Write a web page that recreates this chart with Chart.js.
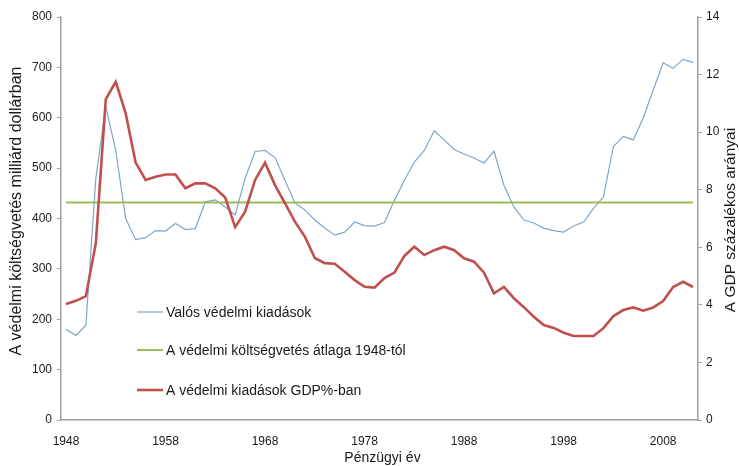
<!DOCTYPE html>
<html>
<head>
<meta charset="utf-8">
<script src="https://cdn.jsdelivr.net/npm/chart.js@4"></script>
<style>
  html, body { margin: 0; padding: 0; background: #fff; }
  #wrap { position: relative; width: 739px; height: 466px; }
</style>
</head>
<body>
<div id="wrap"><canvas id="defenseChart" width="739" height="466"></canvas></div>
<script>
// ── data ──
const years = [
  1948, 1949, 1950, 1951, 1952, 1953, 1954, 1955, 1956, 1957,
  1958, 1959, 1960, 1961, 1962, 1963, 1964, 1965, 1966, 1967,
  1968, 1969, 1970, 1971, 1972, 1973, 1974, 1975, 1976, 1977,
  1978, 1979, 1980, 1981, 1982, 1983, 1984, 1985, 1986, 1987,
  1988, 1989, 1990, 1991, 1992, 1993, 1994, 1995, 1996, 1997,
  1998, 1999, 2000, 2001, 2002, 2003, 2004, 2005, 2006, 2007,
  2008, 2009, 2010, 2011
];

// real defense spending, billion dollars (left axis)
const spending = [
  180, 168, 188, 480, 622, 535, 400, 358, 362, 376,
  375, 390, 378, 380, 433, 437, 423, 407, 480, 533,
  535, 521, 476, 431, 417, 397, 381, 367, 373, 393,
  386, 385, 392, 436, 476, 512, 535, 574, 556, 537,
  528, 520, 510, 534, 466, 423, 397, 391, 381, 376,
  373, 385, 393, 420, 443, 543, 563, 556, 600, 655,
  709, 698, 716, 710
];

// defense spending as % of GDP (right axis)
const gdpShare = [
  4.03, 4.14, 4.30, 6.15, 11.15, 11.75, 10.65, 8.94, 8.34, 8.45,
  8.53, 8.53, 8.05, 8.22, 8.22, 8.05, 7.73, 6.70, 7.24, 8.34,
  8.94, 8.16, 7.53, 6.89, 6.37, 5.63, 5.45, 5.43, 5.15, 4.86,
  4.63, 4.60, 4.93, 5.12, 5.70, 6.02, 5.73, 5.90, 6.02, 5.90,
  5.62, 5.50, 5.12, 4.40, 4.62, 4.23, 3.92, 3.59, 3.30, 3.20,
  3.03, 2.92, 2.92, 2.92, 3.19, 3.61, 3.82, 3.91, 3.80, 3.91,
  4.13, 4.62, 4.80, 4.62
];

// average budget since 1948 (flat line)
const averageSince1948 = 432;

const yearTicks = [1948, 1958, 1968, 1978, 1988, 1998, 2008];

const legendItems = [
  { text: 'Valós védelmi kiadások', color: '#7fa6c9', width: 1.2 },
  { text: 'A védelmi költségvetés átlaga 1948-tól', color: '#9bbb59', width: 2 },
  { text: 'A védelmi kiadások GDP%-ban', color: '#c0504d', width: 2.6 }
];

const AXIS_GRAY = '#a0a0a0';
const TEXT_COLOR = '#1a1a1a';
const TICK_FONT = { family: 'Liberation Sans', size: 12 };

// ── titles + in-plot legend ──
const annotations = {
  id: 'annotations',
  afterDraw(chart) {
    const ctx = chart.ctx;
    const area = chart.chartArea;
    ctx.save();
    ctx.fillStyle = TEXT_COLOR;
    ctx.textAlign = 'center';
    ctx.textBaseline = 'middle';

    // left axis title
    ctx.font = '16px "Liberation Sans"';
    ctx.save();
    ctx.translate(17, 211);
    ctx.rotate(-Math.PI / 2);
    ctx.fillText('A védelmi költségvetés milliárd dollárban', 0, 0);
    ctx.restore();

    // right axis title (reads bottom to top, like the left one)
    ctx.font = '15.5px "Liberation Sans"';
    ctx.save();
    ctx.translate(731, 220);
    ctx.rotate(-Math.PI / 2);
    ctx.fillText('A GDP százalékos arányai', 0, 0);
    ctx.restore();

    // x axis title
    ctx.font = '14px "Liberation Sans"';
    ctx.fillText('Pénzügyi év', (area.left + area.right) / 2 + 3, 458);

    // legend
    ctx.textAlign = 'left';
    ctx.font = '14px "Liberation Sans"';
    const rows = [312, 350, 390];
    legendItems.forEach((item, i) => {
      ctx.strokeStyle = item.color;
      ctx.lineWidth = item.width;
      ctx.beginPath();
      ctx.moveTo(137, rows[i]);
      ctx.lineTo(163, rows[i]);
      ctx.stroke();
      ctx.fillStyle = TEXT_COLOR;
      ctx.fillText(item.text, 166, rows[i] + 1);
    });
    ctx.restore();
  }
};

new Chart(document.getElementById('defenseChart'), {
  type: 'line',
  data: {
    labels: years,
    datasets: [
      {
        label: 'Valós védelmi kiadások',
        data: spending,
        yAxisID: 'y',
        borderColor: '#7fa6c9',
        borderWidth: 1.2,
        pointRadius: 0,
        tension: 0,
        order: 3
      },
      {
        label: 'A védelmi költségvetés átlaga 1948-tól',
        data: years.map(() => averageSince1948),
        yAxisID: 'y',
        borderColor: '#9bbb59',
        borderWidth: 2,
        pointRadius: 0,
        order: 2
      },
      {
        label: 'A védelmi kiadások GDP%-ban',
        data: gdpShare,
        yAxisID: 'y2',
        borderColor: '#c0504d',
        borderWidth: 2.6,
        pointRadius: 0,
        tension: 0,
        order: 1
      }
    ]
  },
  options: {
    responsive: false,
    animation: false,
    events: [],
    layout: { padding: { top: 17, left: 0, right: 0, bottom: 0 } },
    plugins: {
      legend: { display: false },
      tooltip: { enabled: false }
    },
    scales: {
      x: {
        type: 'category',
        offset: true,
        grid: { display: false, drawTicks: false },
        border: { display: true, color: AXIS_GRAY, width: 1.5 },
        ticks: {
          autoSkip: false,
          maxRotation: 0,
          padding: 14,
          color: TEXT_COLOR,
          font: TICK_FONT,
          callback: function (value) {
            const yr = this.getLabelForValue(value);
            return yearTicks.includes(Number(yr)) ? yr : '';
          }
        },
        afterFit: (scale) => { scale.height = 46; }
      },
      y: {
        position: 'left',
        min: 0,
        max: 800,
        ticks: { stepSize: 100, padding: 5, color: TEXT_COLOR, font: TICK_FONT },
        grid: { drawOnChartArea: false, drawTicks: true, tickLength: 4, color: AXIS_GRAY },
        border: { display: true, color: AXIS_GRAY, width: 1.5 },
        afterFit: (scale) => { scale.width = 61; }
      },
      y2: {
        position: 'right',
        min: 0,
        max: 14,
        ticks: { stepSize: 2, padding: 4, color: TEXT_COLOR, font: TICK_FONT },
        grid: { drawOnChartArea: false, drawTicks: true, tickLength: 4, color: AXIS_GRAY },
        border: { display: true, color: AXIS_GRAY, width: 1.5 },
        afterFit: (scale) => { scale.width = 41; }
      }
    }
  },
  plugins: [annotations]
});
</script>
</body>
</html>
